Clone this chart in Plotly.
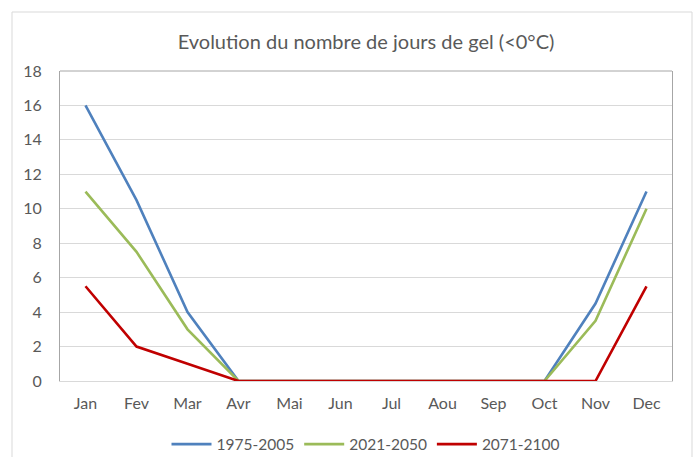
import plotly.graph_objects as go

months = ["Jan", "Fev", "Mar", "Avr", "Mai", "Jun", "Jul", "Aou", "Sep", "Oct", "Nov", "Dec"]
s1975 = [16, 10.5, 4, 0, 0, 0, 0, 0, 0, 0, 4.5, 11]
s2021 = [11, 7.5, 3, 0, 0, 0, 0, 0, 0, 0, 3.5, 10]
s2071 = [5.5, 2, 1, 0, 0, 0, 0, 0, 0, 0, 0, 5.5]
names = ["1975-2005", "2021-2050", "2071-2100"]
colors = ["#4F81BD", "#9BBB59", "#C00000"]
yticks = [0, 2, 4, 6, 8, 10, 12, 14, 16, 18]

fig = go.Figure()
for name, vals, c in zip(names, [s1975, s2021, s2071], colors):
    fig.add_trace(go.Scatter(x=months, y=vals, mode="lines", name=name,
                             line=dict(color=c, width=2.6)))

font = "Lato, 'Open Sans', sans-serif"
fig.update_layout(
    width=696, height=457,
    margin=dict(l=60, r=24, t=71, b=76, autoexpand=False),
    paper_bgcolor="white", plot_bgcolor="white",
    title=dict(text="Evolution du nombre de jours de gel (<0°C)", x=0.5, xanchor="center",
               xref="paper", y=1 - 42 / 457, yanchor="middle",
               font=dict(family=font, size=20, color="#595959")),
    font=dict(family=font, size=15, color="#595959"),
    xaxis=dict(type="category", range=[-0.5, 11.5], showgrid=False, ticks="",
               showline=True, linecolor="#D9D9D9", linewidth=1, mirror=False,
               automargin=False,
               tickfont=dict(size=16, color="#595959"), ticklabelstandoff=8),
    yaxis=dict(range=[0, 18], tickvals=yticks, showgrid=True, gridcolor="#D9D9D9",
               gridwidth=1, zeroline=False, showline=True, linecolor="#A6A6A6",
               linewidth=1, mirror=True, ticks="", automargin=False,
               tickfont=dict(size=16, color="#595959"), ticklabelstandoff=14),
    legend=dict(orientation="h", x=0.5, xanchor="center", y=-0.15, yanchor="top",
                font=dict(size=15.5, color="#595959"), itemwidth=40),
    showlegend=True,
)
fig.add_shape(type="line", xref="paper", yref="paper", x0=0, x1=1, y0=1, y1=1,
              line=dict(color="#A6A6A6", width=1), layer="above")
fig.add_shape(type="rect", xref="paper", yref="paper",
              x0=-48 / 612, x1=1 + 20 / 612, y0=-85 / 310, y1=1 + 59 / 310,
              line=dict(color="#D9D9D9", width=1), layer="below")
fig.write_html("out.html", config={"displayModeBar": False},
               post_script="document.body.style.margin='0';document.body.style.overflow='hidden';")
